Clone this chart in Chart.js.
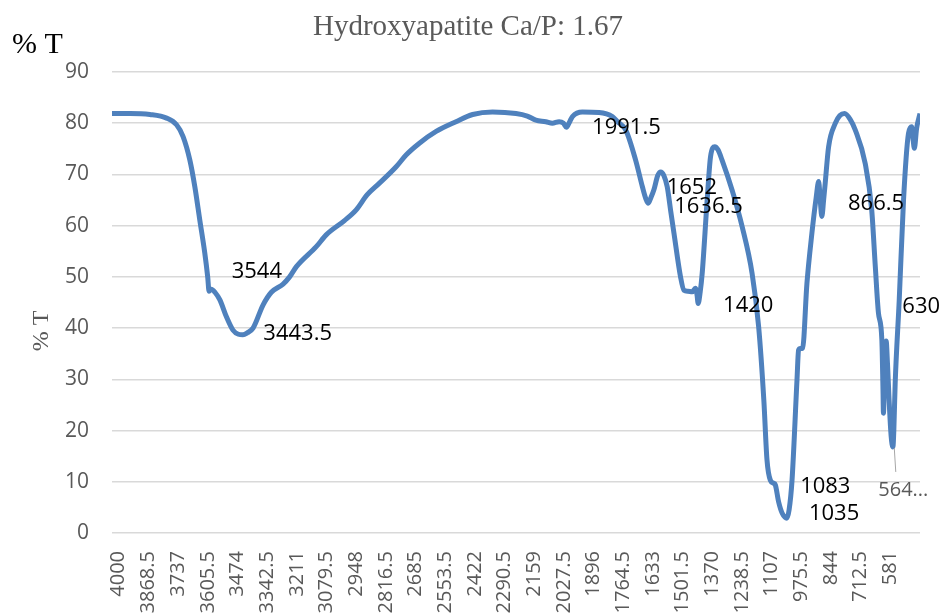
<!DOCTYPE html>
<html>
<head>
<meta charset="utf-8">
<script src="https://cdn.jsdelivr.net/npm/chart.js@4"></script>
<style>
  html, body { margin: 0; padding: 0; background: #fff; }
  #wrap { width: 947px; height: 616px; }
</style>
</head>
<body>
<div id="wrap"><canvas id="chart" width="947" height="616"></canvas></div>
<script>
// wavenumber (cm-1) and transmittance (%)
const wavenumbers = [
  4030, 3950, 3862, 3788, 3744, 3715, 3685, 3663, 3641, 3619, 3606, 3600, 3590, 3574,
  3552, 3523, 3494, 3470, 3450, 3430, 3405, 3361, 3324, 3272, 3243, 3213, 3125, 3081,
  3000, 2948, 2900, 2845, 2771, 2727, 2668, 2594, 2506, 2432, 2344, 2240, 2190, 2152,
  2108, 2079, 2049, 2030, 2017, 2000, 1990, 1946, 1872, 1813, 1790, 1754, 1710, 1680,
  1665, 1654, 1642, 1629, 1612, 1599, 1585, 1570, 1555, 1540, 1511, 1496, 1478, 1459,
  1445, 1438, 1433, 1424, 1415, 1393, 1378, 1359, 1345, 1327, 1283, 1238, 1194, 1165,
  1142, 1128, 1113, 1098, 1091, 1076, 1060, 1040, 1030, 1017, 995, 988, 980, 970,
  951, 929, 910, 899, 892, 885, 877, 870, 855, 825, 805, 784, 760, 737,
  693, 664, 648, 634, 619, 614, 612, 608, 600, 594, 587, 578, 570, 566,
  560, 542, 523, 501, 487, 481, 475, 465, 450
];
const transmittance = [
  81.9, 81.9, 81.7, 81.0, 79.7, 77.4, 72.8, 67.6, 61.1, 54.7, 50.0, 47.2, 47.6, 47.0,
  45.5, 42.2, 39.6, 38.8, 38.7, 39.1, 40.0, 44.5, 47.0, 48.6, 50.0, 52.0, 55.9, 58.2,
  61.0, 63.1, 66.0, 68.3, 71.5, 73.8, 76.1, 78.4, 80.3, 81.7, 82.2, 81.9, 81.4, 80.6,
  80.3, 80.0, 80.3, 80.0, 79.2, 80.5, 81.3, 82.2, 82.1, 81.3, 80.3, 78.7, 72.8, 67.6,
  65.3, 64.4, 65.5, 67.0, 69.8, 70.5, 69.8, 67.6, 63.0, 58.5, 50.0, 47.4, 47.2, 47.1,
  47.8, 46.5, 44.8, 47.0, 50.7, 65.0, 73.5, 75.4, 74.8, 72.8, 67.0, 59.8, 50.7, 40.3,
  26.0, 14.3, 10.3, 9.7, 9.4, 6.0, 3.8, 2.9, 4.5, 10.3, 29.9, 35.7, 36.0, 36.1,
  48.7, 58.5, 65.5, 68.6, 65.0, 61.8, 65.0, 68.3, 75.4, 80.0, 81.5, 81.9, 80.8, 78.7,
  72.2, 63.1, 52.0, 42.9, 37.7, 28.0, 23.4, 29.0, 37.5, 33.0, 26.0, 19.0, 16.8, 20.0,
  29.2, 45.5, 65.0, 78.0, 79.3, 77.0, 75.1, 79.0, 81.9
];
const tickLabels = [
  4000, 3868.5, 3737, 3605.5, 3474, 3342.5, 3211, 3079.5, 2948, 2816.5, 2685, 2553.5,
  2422, 2290.5, 2159, 2027.5, 1896, 1764.5, 1633, 1501.5, 1370, 1238.5, 1107, 975.5,
  844, 712.5, 581
];
// labelled peaks
const peakLabels = ["3544", "3443.5", "1991.5", "1652", "1636.5", "1420", "1083", "1035", "866.5", "630", "564..."];
const peakWavenumbers = [3544, 3443.5, 1991.5, 1652, 1636.5, 1420, 1083, 1035, 866.5, 630, 564];
const peakTransmittance = [44.6, 38.7, 81.3, 64.5, 66.0, 49.0, 8.2, 3.5, 70.0, 41.5, 16.8];

// label placement relative to its point, in pixels
const labelOffsets = [[10, -33], [19, -1], [20, 11], [18, -15], [22, 12], [22, 24], [23, -4], [21, -1], [22, 29], [23, -14], [-16, 43]];

const greyText = "#595959";
const serif = '"Liberation Serif", "Times New Roman", serif';
const sans = '"Open Sans", "Noto Sans", sans-serif';

const decorations = {
  id: "decorations",
  afterDraw(chart) {
    const ctx = chart.ctx;
    const xs = chart.scales.x;
    const ys = chart.scales.y;
    ctx.save();

    // chart title
    ctx.fillStyle = greyText;
    ctx.font = "29px " + serif;
    ctx.textAlign = "center";
    ctx.textBaseline = "alphabetic";
    ctx.fillText("Hydroxyapatite Ca/P: 1.67", 468, 35);

    // "% T" in the corner
    ctx.fillStyle = "#000";
    ctx.font = "30px " + serif;
    ctx.textAlign = "left";
    ctx.fillText("% T", 12, 53);

    // rotated axis title
    ctx.save();
    ctx.translate(48, 331);
    ctx.rotate(-Math.PI / 2);
    ctx.fillStyle = greyText;
    ctx.font = "24px " + serif;
    ctx.textAlign = "center";
    ctx.fillText("% T", 0, 0);
    ctx.restore();

    // peak labels
    ctx.textBaseline = "middle";
    peakLabels.forEach((txt, i) => {
      const px = xs.getPixelForValue(peakWavenumbers[i]);
      const py = ys.getPixelForValue(peakTransmittance[i]);
      const [dx, dy] = labelOffsets[i];
      if (txt.endsWith("...")) {
        // leader line for the moved label
        ctx.strokeStyle = "#a6a6a6";
        ctx.lineWidth = 1;
        ctx.beginPath();
        ctx.moveTo(px, py + 1);
        ctx.lineTo(px + 1.5, py + dy - 18);
        ctx.stroke();
        ctx.fillStyle = greyText;
        ctx.font = "20px " + sans;
      } else {
        ctx.fillStyle = "#000";
        ctx.font = "22px " + sans;
      }
      ctx.fillText(txt, px + dx, py + dy);
    });
    ctx.restore();
  }
};

new Chart(document.getElementById("chart"), {
  type: "line",
  data: {
    datasets: [
      {
        label: "% T",
        data: wavenumbers.map((w, i) => ({ x: w, y: transmittance[i] })),
        borderColor: "#4f81bd",
        borderWidth: 5,
        pointRadius: 0,
        cubicInterpolationMode: "monotone",
        fill: false,
      },
    ],
  },
  options: {
    responsive: false,
    animation: false,
    devicePixelRatio: 1,
    layout: { padding: { top: 72, right: 27, left: 0, bottom: 0 } },
    plugins: {
      legend: { display: false },
      tooltip: { enabled: false },
      title: { display: false },
    },
    scales: {
      x: {
        type: "linear",
        reverse: true,
        min: 450,
        max: 4030,
        afterBuildTicks: (scale) => {
          scale.ticks = tickLabels.map((v) => ({ value: v }));
        },
        afterFit: (scale) => {
          scale.height = 83;
        },
        ticks: {
          autoSkip: false,
          maxRotation: 90,
          minRotation: 90,
          padding: 18,
          color: greyText,
          font: { family: sans, size: 20 },
          callback: (v) => String(v),
        },
        grid: { display: false, drawTicks: false },
        border: { display: false },
      },
      y: {
        min: 0,
        max: 90,
        afterFit: (scale) => {
          scale.width = 112;
        },
        ticks: {
          stepSize: 10,
          padding: 23,
          color: greyText,
          font: { family: sans, size: 21 },
        },
        grid: { color: "#d9d9d9", lineWidth: 1.5, drawTicks: false },
        border: { display: false },
      },
    },
  },
  plugins: [decorations],
});
</script>
</body>
</html>
